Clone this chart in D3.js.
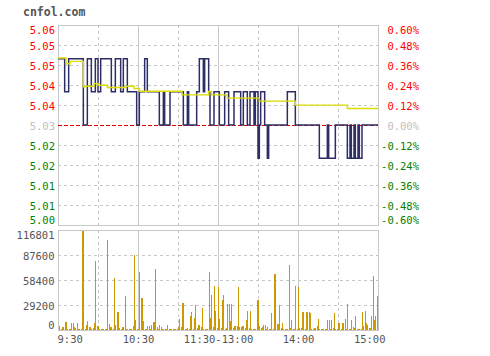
<!DOCTYPE html>
<html><head><meta charset="utf-8">
<script src="https://cdn.jsdelivr.net/npm/d3@7"></script>
<style>
html,body{margin:0;padding:0;background:#fff;}
svg text{font-family:"DejaVu Sans Mono",monospace;font-size:10px;}
</style></head>
<body><svg id="c" width="490" height="356"></svg>
<script>
const basePrice = 5.03;
const pctRange = 0.006;
const minutes = d3.range(0, 241);
const price = [
5.05,5.05,5.05,5.05,5.05,5.04,5.04,5.04,5.05,5.05,
5.05,5.05,5.05,5.05,5.05,5.05,5.05,5.05,5.05,5.03,
5.03,5.03,5.05,5.05,5.05,5.04,5.04,5.04,5.05,5.05,
5.04,5.04,5.05,5.05,5.05,5.05,5.05,5.05,5.05,5.05,
5.04,5.04,5.04,5.05,5.05,5.05,5.05,5.04,5.04,5.05,
5.05,5.05,5.04,5.04,5.04,5.04,5.04,5.04,5.04,5.03,
5.03,5.04,5.04,5.04,5.04,5.05,5.05,5.04,5.04,5.04,
5.04,5.04,5.04,5.04,5.04,5.04,5.03,5.03,5.03,5.04,
5.03,5.03,5.03,5.03,5.04,5.04,5.04,5.04,5.04,5.04,
5.04,5.04,5.04,5.04,5.03,5.03,5.03,5.04,5.03,5.03,
5.03,5.03,5.03,5.03,5.04,5.04,5.05,5.05,5.05,5.04,
5.05,5.05,5.05,5.04,5.03,5.03,5.03,5.04,5.04,5.04,
5.04,5.03,5.03,5.03,5.03,5.04,5.04,5.04,5.03,5.03,
5.03,5.03,5.04,5.04,5.04,5.04,5.04,5.03,5.03,5.04,
5.04,5.04,5.03,5.03,5.04,5.04,5.04,5.03,5.04,5.04,
5.02,5.03,5.04,5.04,5.04,5.03,5.03,5.02,5.03,5.03,
5.03,5.03,5.03,5.03,5.03,5.03,5.03,5.03,5.03,5.03,
5.03,5.03,5.04,5.04,5.04,5.04,5.04,5.04,5.03,5.03,
5.03,5.03,5.03,5.03,5.03,5.03,5.03,5.03,5.03,5.03,
5.03,5.03,5.03,5.03,5.03,5.03,5.02,5.02,5.02,5.02,
5.02,5.02,5.03,5.02,5.02,5.02,5.02,5.02,5.03,5.03,
5.03,5.03,5.03,5.03,5.03,5.03,5.03,5.02,5.02,5.03,
5.02,5.02,5.03,5.02,5.02,5.03,5.02,5.02,5.03,5.03,
5.03,5.03,5.03,5.03,5.03,5.03,5.03,5.03,5.03,5.03,
5.03];
const avgMinutes = [0,6,9,19,20,27,30,37,51,57,61,93,113,115,127,151,178,217,240];
const avgPrice = [5.0502,5.0485,5.0492,5.0415,5.0417,5.0425,5.0420,5.0413,5.0417,5.0410,5.0402,5.0391,5.0401,5.0391,5.0381,5.0372,5.0360,5.0350,5.0350];
const volume = [
8200,4300,1600,3100,3100,9300,9300,1600,1600,1200,
8200,8200,3100,2000,8200,1600,1600,1200,116801,116801,
1600,5500,10100,3100,3100,1600,2000,8200,80200,5100,
4300,1600,1600,1200,1600,1600,1200,105500,7000,3500,
3500,1600,60700,6200,21000,21000,2300,1600,3100,3100,
39300,1600,1600,1600,1600,1600,5100,88000,11700,1600,
1600,67700,37400,37400,10100,1600,1600,5100,5100,1600,
6200,9300,9300,71600,3100,1600,6200,3100,1600,1600,
1200,1200,5500,1600,1600,1200,1200,1600,1600,1600,
3100,13200,3100,31500,31500,1600,1600,2300,1600,16000,
21000,1200,14000,28800,2300,6200,5500,3100,25700,1600,
1600,1600,1600,67700,14000,41300,3100,51000,22600,2300,
49800,13200,2000,35000,41300,1600,2300,30400,30400,10100,
30400,2300,4300,4300,4300,49800,3100,3100,4300,4300,
2300,11700,22600,2300,22600,1600,1600,1600,1600,35400,
35400,4300,2300,3100,6200,6200,1600,3100,1600,1600,
19800,1600,65400,65400,7000,7000,28800,2300,8200,1600,
1600,1600,1600,76300,2300,11700,1600,1600,51800,1600,
50200,2300,2300,21000,21000,1600,21000,21000,21000,19800,
1600,1600,2300,2300,4300,13200,1600,1600,1600,1600,
1600,1600,11700,11700,1600,11700,2300,19800,1600,1600,
8200,8200,1600,8200,8200,13200,1600,30400,1600,1600,
12000,3100,2300,16000,1600,1600,1600,1600,21000,4300,
22000,8200,5500,2300,2300,16300,63500,12000,16000,39300,
10100];
const pctSteps = [0.6,0.48,0.36,0.24,0.12,0,-0.12,-0.24,-0.36,-0.48,-0.6];
const priceLabels = ["5.06","5.05","5.05","5.04","5.04","5.03","5.02","5.02","5.01","5.01","5.00"];
const pctLabels = ["0.60%","0.48%","0.36%","0.24%","0.12%","0.00%","-0.12%","-0.24%","-0.36%","-0.48%","-0.60%"];
const volTicks = [116801,87600,58400,29200,0];
const volLabels = ["116801","87600","58400","29200","0"];
const timeTicks = [0,60,120,180,240];
const timeLabels = ["9:30","10:30","11:30-13:00","14:00","15:00"];
const gridMinutes = [30,60,90,120,150,180,210];
const solidMinutes = [60,120,180];

const svg = d3.select("#c");
const L = 58, R = 378, PT = 25, PB = 225, VT = 230, VB = 330;
const x = d3.scaleLinear().domain([0,240]).range([L,R]);
const yP = d3.scaleLinear().domain([basePrice*(1-pctRange), basePrice*(1+pctRange)]).range([PB,PT]);
const yV = d3.scaleLinear().domain([0,116801]).range([VB,VT]);
const gridColor = "#c8c8c8";

svg.append("text").attr("x",23).attr("y",16).text("cnfol.com")
  .attr("fill","#555").style("font-weight","bold").style("font-size","11.5px");

// price grid
const gP = svg.append("g");
pctSteps.forEach(p => {
  if (p === 0.6 || p === -0.6 || p === 0) return;
  const yy = Math.round(yP(basePrice*(1+p/100))) + 0.5;
  gP.append("line").attr("x1",L).attr("x2",R).attr("y1",yy).attr("y2",yy)
    .attr("stroke",gridColor).attr("stroke-dasharray","3,3");
});
function vgrid(g, top, bot){
  gridMinutes.forEach(m => {
    const xx = Math.round(x(m)) + 0.5;
    const solid = solidMinutes.includes(m);
    g.append("line").attr("x1",xx).attr("x2",xx).attr("y1",top).attr("y2",bot)
      .attr("stroke",gridColor).attr("stroke-dasharray", solid ? null : "3,3");
  });
}
vgrid(gP, PT, PB);
gP.append("rect").attr("x",L+0.5).attr("y",PT+0.5).attr("width",R-L).attr("height",PB-PT)
  .attr("fill","none").attr("stroke",gridColor);

// base line
const by = Math.round(yP(basePrice)) + 0.5;
gP.append("line").attr("x1",L).attr("x2",R).attr("y1",by).attr("y2",by)
  .attr("stroke","#e00000").attr("stroke-dasharray","4,2");

// price line
const line = d3.line().x((d,i)=>x(minutes[i])).y(d=>yP(d)).curve(d3.curveStepAfter);
svg.append("path").datum(price).attr("d",line).attr("fill","none")
  .attr("stroke","#2e2e66").attr("stroke-width",1.5);
const aline = d3.line().x((d,i)=>x(avgMinutes[i])).y(d=>yP(d)).curve(d3.curveStepAfter);
svg.append("path").datum(avgPrice).attr("d",aline).attr("fill","none")
  .attr("stroke","#dcdc00").attr("stroke-width",1.4);

// price labels
function clampY(yv, top, bot){ return Math.max(top+6, Math.min(bot-4, yv+1.5)); }
const lblColor = p => p > 0 ? "#ff0000" : (p < 0 ? "#008000" : "#c0c0c0");
const axL = d3.axisLeft(yP).tickValues(pctSteps.map(p=>basePrice*(1+p/100))).tickSize(0)
  .tickFormat((d,i)=>priceLabels[i]);
const gL = svg.append("g").attr("transform",`translate(${L-3},0)`).call(axL);
gL.select(".domain").remove();
gL.selectAll(".tick").attr("transform",null);
gL.selectAll(".tick text").attr("x",0).attr("dy",null)
  .attr("y",(d,i)=>clampY(yP(d),PT,PB)).attr("dominant-baseline","middle")
  .attr("fill",(d,i)=>lblColor(pctSteps[i])).style("font-size","10.5px").attr("font-family",null);

const gR = svg.append("g");
pctSteps.forEach((p,i)=>{
  gR.append("text").attr("x",419).attr("y",clampY(yP(basePrice*(1+p/100)),PT,PB))
    .attr("dominant-baseline","middle").attr("text-anchor","end")
    .attr("fill",lblColor(p)).text(pctLabels[i]).style("font-size","10.5px");
});

// volume panel
const gV = svg.append("g");
[87600,58400,29200].forEach(v=>{
  const yy = Math.round(yV(v)) + 0.5;
  gV.append("line").attr("x1",L).attr("x2",R).attr("y1",yy).attr("y2",yy)
    .attr("stroke",gridColor).attr("stroke-dasharray","3,3");
});
vgrid(gV, VT, VB);
gV.selectAll("rect.bar").data(volume).join("rect").attr("class","bar")
  .attr("x",(d,i)=>Math.min(R-1, Math.round(x(minutes[i])))).attr("width",1)
  .attr("y",d=>Math.round(yV(d))).attr("height",d=>VB-Math.round(yV(d)))
  .attr("fill","#cc9900").attr("shape-rendering","crispEdges");
gV.append("rect").attr("x",L+0.5).attr("y",VT+0.5).attr("width",R-L).attr("height",VB-VT)
  .attr("fill","none").attr("stroke",gridColor);

const axV = d3.axisLeft(yV).tickValues(volTicks).tickSize(0).tickFormat((d,i)=>volLabels[i]);
const gVL = svg.append("g").attr("transform",`translate(${L-3.5},0)`).call(axV);
gVL.select(".domain").remove();
gVL.selectAll(".tick").attr("transform",null);
gVL.selectAll(".tick text").attr("x",0).attr("dy",null)
  .attr("y",d=>clampY(yV(d),VT,VB)).attr("dominant-baseline","middle")
  .attr("fill","#555").style("font-size","10.5px").attr("font-family",null);

// time axis
const axT = d3.axisBottom(x).tickValues(timeTicks).tickSize(0).tickFormat((d,i)=>timeLabels[i]);
const gT = svg.append("g").attr("transform",`translate(0,${VB})`).call(axT);
gT.select(".domain").remove();
gT.selectAll(".tick text").attr("y",6).attr("dy","0.71em").attr("fill","#555")
  .style("font-size","10.5px").attr("font-family",null)
  .attr("text-anchor",(d,i)=> i===0 ? "start" : (i===timeTicks.length-1 ? "end" : "middle"))
  .attr("x",(d,i)=> i===0 ? -1 : (i===timeTicks.length-1 ? 7 : 0));
</script></body></html>
